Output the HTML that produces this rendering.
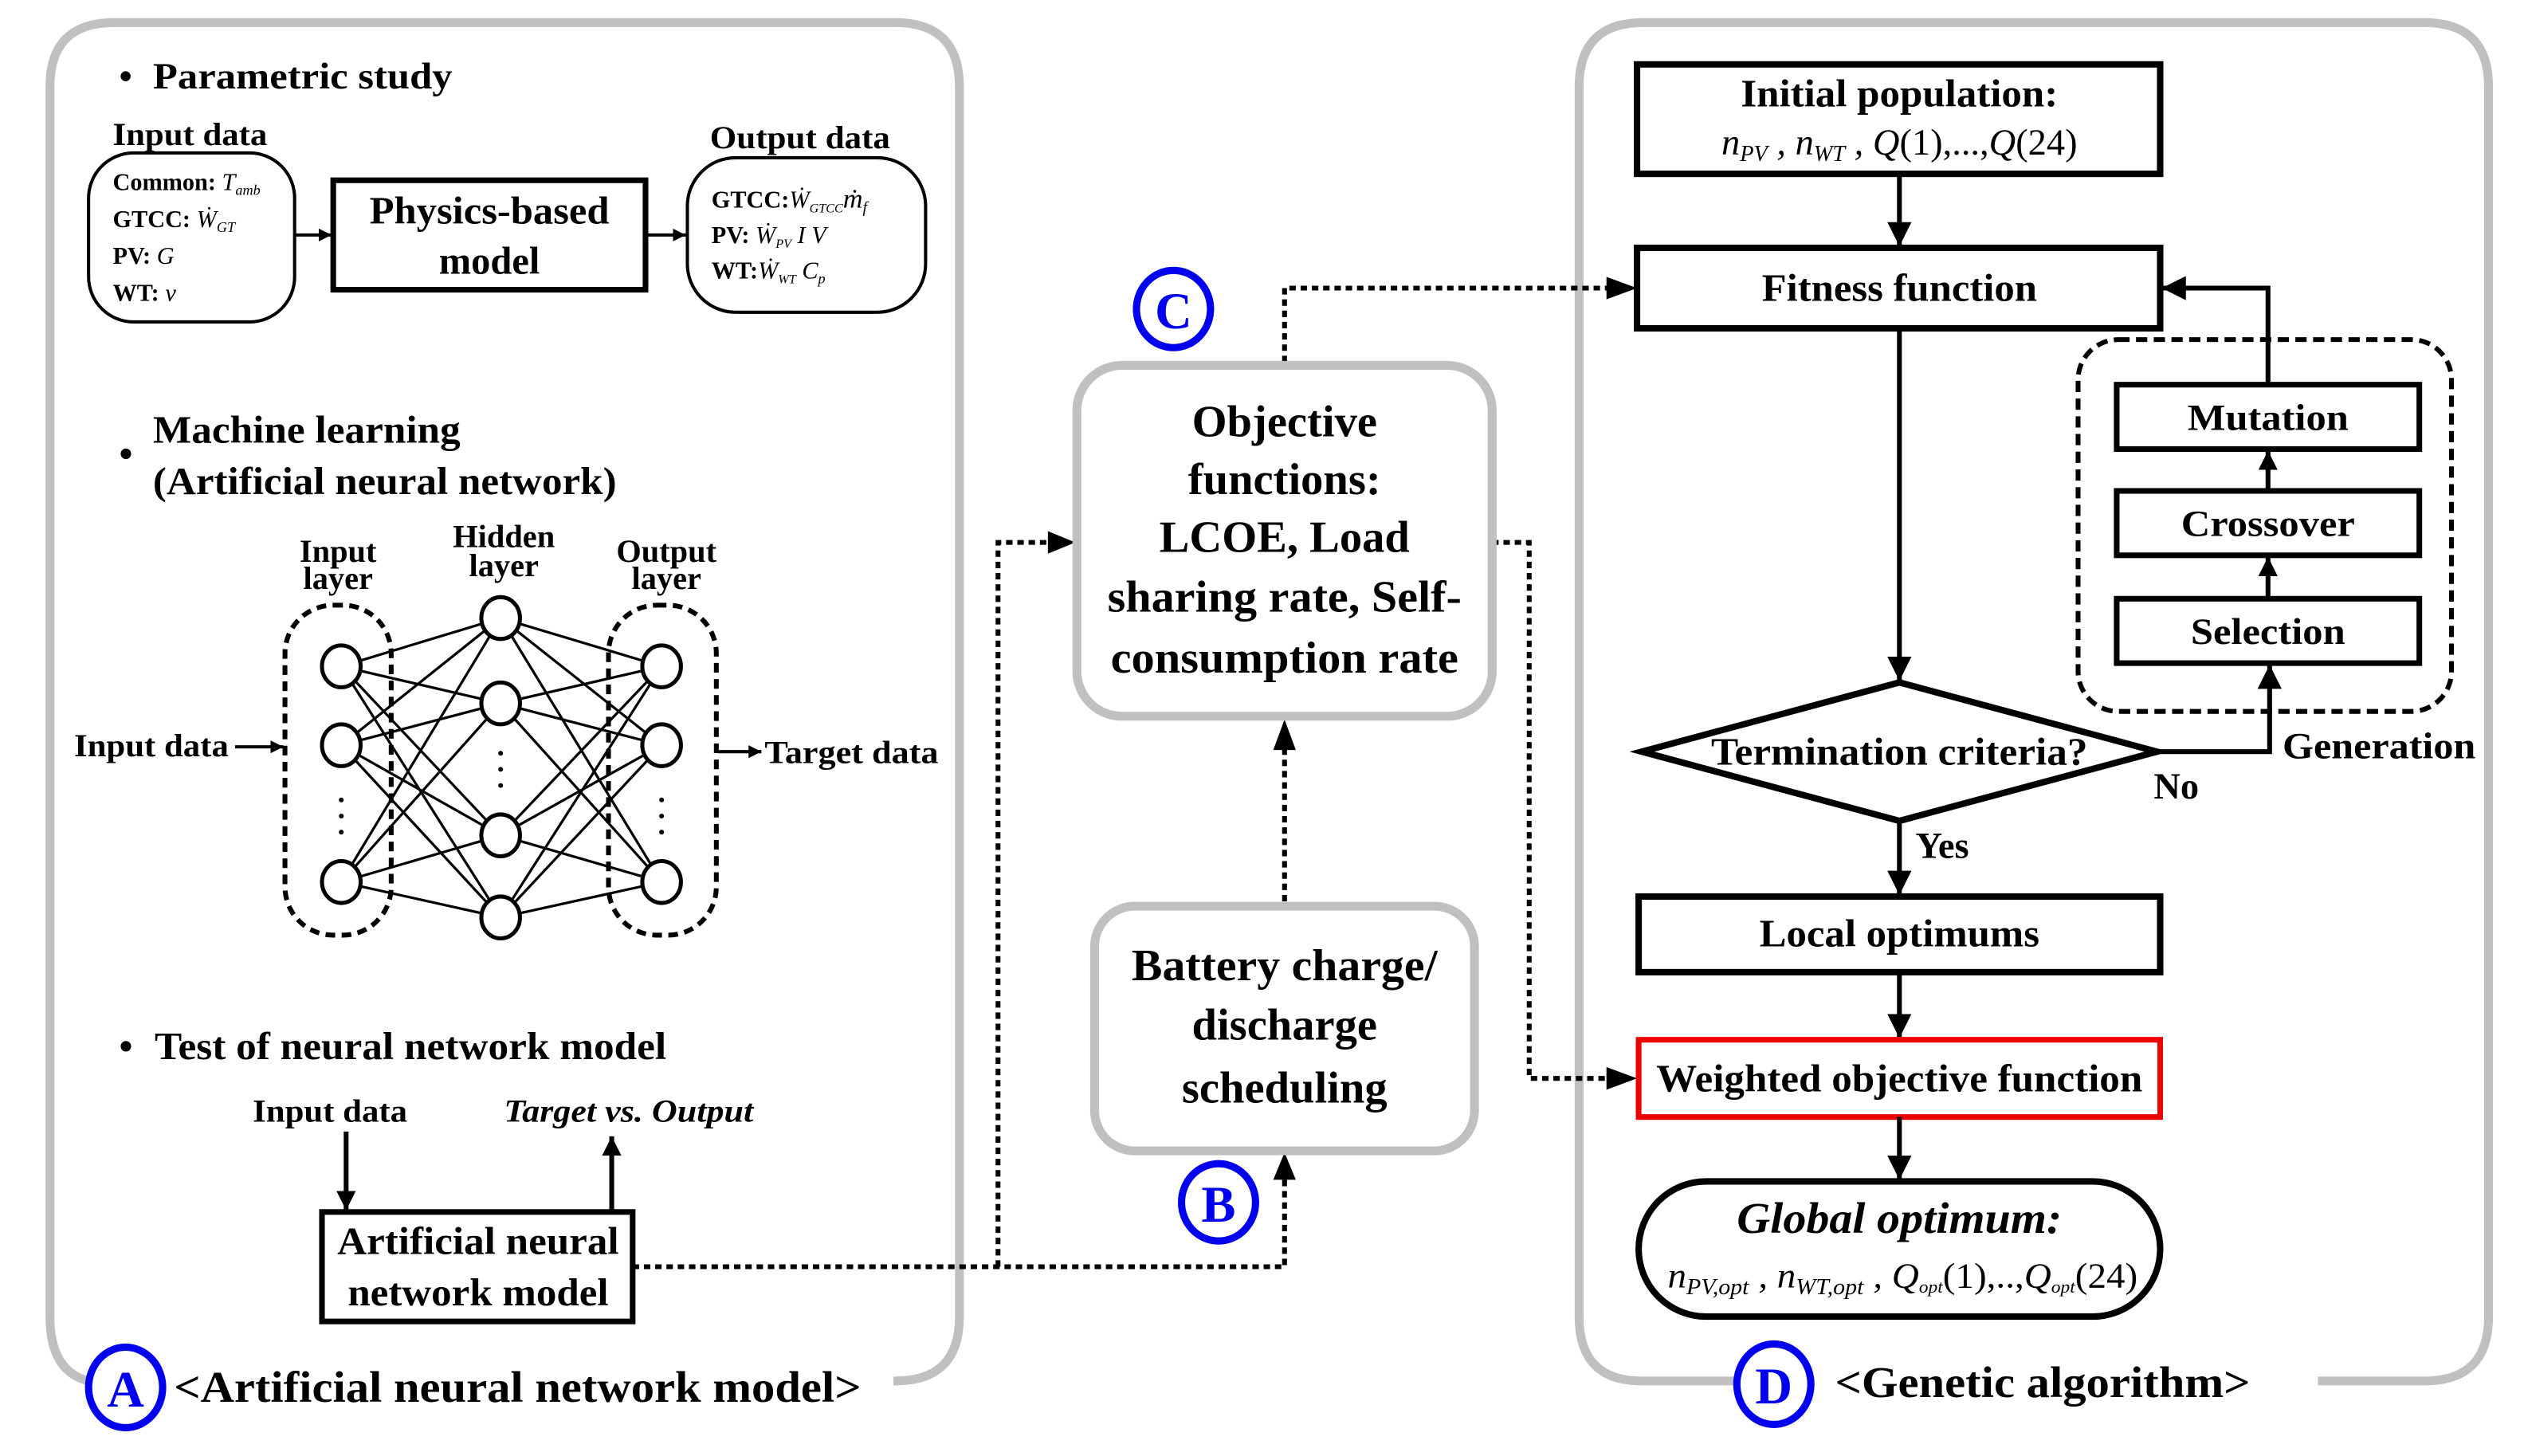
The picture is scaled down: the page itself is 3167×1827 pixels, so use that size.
<!DOCTYPE html>
<html><head><meta charset="utf-8"><style>html,body{margin:0;padding:0;background:#fff}svg{display:block}</style></head>
<body>
<svg xmlns="http://www.w3.org/2000/svg" width="3167" height="1827" viewBox="0 0 1568 904.6" font-family="'Liberation Serif', serif" font-weight="bold">
<defs>
<marker id="ah" viewBox="0 0 10 10" refX="10" refY="5" markerWidth="4" markerHeight="4" orient="auto" markerUnits="strokeWidth"><path d="M0,0 L10,5 L0,10 z" fill="#000"/></marker>
<marker id="ahs" viewBox="0 0 10 10" refX="10" refY="5" markerWidth="5" markerHeight="5" orient="auto" markerUnits="strokeWidth"><path d="M0,0 L10,5 L0,10 z" fill="#000"/></marker>
</defs>
<rect width="1568" height="904.6" fill="#fff"/>
<!-- Panels -->
<path d="M555,858 H556 Q596,858 596,818 V54 Q596,14 556,14 H71 Q31,14 31,54 V818 Q31,852 55,858" fill="none" stroke="#c0c0c0" stroke-width="5.5"/>
<path d="M1080,858 H1020 Q981,858 981,818 V54 Q981,14 1021,14 H1506 Q1546,14 1546,54 V818 Q1546,858 1506,858 H1440" fill="none" stroke="#c0c0c0" stroke-width="5.5"/>

<!-- Parametric study -->
<g font-size="23">
<text x="74" y="55">•</text><text x="95" y="55" textLength="186" lengthAdjust="spacingAndGlyphs">Parametric study</text>
</g>
<text x="70" y="90" font-size="20" textLength="96" lengthAdjust="spacingAndGlyphs">Input data</text>
<rect x="55" y="95" width="128" height="105" rx="28" fill="none" stroke="#000" stroke-width="2"/>
<g font-size="15">
<text x="70" y="118">Common: <tspan font-style="italic" font-weight="normal">T<tspan font-size="9" dy="3">amb</tspan></tspan></text>
<text x="70" y="141">GTCC: <tspan font-style="italic" font-weight="normal">Ẇ<tspan font-size="9" dy="3">GT</tspan></tspan></text>
<text x="70" y="164">PV: <tspan font-style="italic" font-weight="normal">G</tspan></text>
<text x="70" y="187">WT:  <tspan font-style="italic" font-weight="normal">v</tspan></text>
</g>
<line x1="183" y1="146" x2="206" y2="146" stroke="#000" stroke-width="2" marker-end="url(#ah)"/>
<rect x="207" y="112" width="194" height="68" fill="none" stroke="#000" stroke-width="3.5"/>
<g font-size="24" text-anchor="middle"><text x="304" y="139" textLength="149" lengthAdjust="spacingAndGlyphs">Physics-based</text><text x="304" y="170">model</text></g>
<line x1="401" y1="146" x2="426" y2="146" stroke="#000" stroke-width="2" marker-end="url(#ah)"/>
<text x="441" y="92" font-size="20" textLength="112" lengthAdjust="spacingAndGlyphs">Output data</text>
<rect x="427" y="98" width="148" height="96" rx="30" fill="none" stroke="#000" stroke-width="2"/>
<g font-size="15">
<text x="442" y="129">GTCC:<tspan font-style="italic" font-weight="normal">Ẇ<tspan font-size="8" dy="3">GTCC</tspan><tspan dy="-3" font-size="17">ṁ</tspan><tspan font-size="10" dy="3">f</tspan></tspan></text>
<text x="442" y="151">PV: <tspan font-style="italic" font-weight="normal">Ẇ<tspan font-size="8" dy="3">PV</tspan><tspan dy="-3"> I  V</tspan></tspan></text>
<text x="442" y="173">WT:<tspan font-style="italic" font-weight="normal">Ẇ<tspan font-size="8" dy="3">WT</tspan><tspan dy="-3"> C</tspan><tspan font-size="9" dy="3">p</tspan></tspan></text>
</g>

<!-- Machine learning -->
<g font-size="24">
<text x="74" y="290">•</text>
<text x="95" y="275" textLength="191" lengthAdjust="spacingAndGlyphs">Machine learning</text>
<text x="95" y="307" textLength="288" lengthAdjust="spacingAndGlyphs">(Artificial neural network)</text>
</g>
<g font-size="20" text-anchor="middle">
<text x="210" y="349">Input</text><text x="210" y="366">layer</text>
<text x="313" y="340">Hidden</text><text x="313" y="358">layer</text>
<text x="414" y="349">Output</text><text x="414" y="366">layer</text>
</g>
<rect x="177" y="376" width="66" height="205" rx="30" fill="none" stroke="#000" stroke-width="3" stroke-dasharray="6,4"/>
<rect x="378" y="376" width="67" height="205" rx="30" fill="none" stroke="#000" stroke-width="3" stroke-dasharray="6,4"/>
<g stroke="#000" stroke-width="1.6">
<path d="M212,414 L311,384 M212,414 L311,437 M212,414 L311,519 M212,414 L311,570
M212,463 L311,384 M212,463 L311,437 M212,463 L311,519 M212,463 L311,570
M212,548 L311,384 M212,548 L311,437 M212,548 L311,519 M212,548 L311,570
M411,414 L311,384 M411,414 L311,437 M411,414 L311,519 M411,414 L311,570
M411,463 L311,384 M411,463 L311,437 M411,463 L311,519 M411,463 L311,570
M411,548 L311,384 M411,548 L311,437 M411,548 L311,519 M411,548 L311,570"/>
</g>
<g fill="#fff" stroke="#000" stroke-width="2.5">
<ellipse cx="212" cy="414" rx="12" ry="13"/><ellipse cx="212" cy="463" rx="12" ry="13"/><ellipse cx="212" cy="548" rx="12" ry="13"/>
<ellipse cx="311" cy="384" rx="12" ry="13"/><ellipse cx="311" cy="437" rx="12" ry="13"/><ellipse cx="311" cy="519" rx="12" ry="13"/><ellipse cx="311" cy="570" rx="12" ry="13"/>
<ellipse cx="411" cy="414" rx="12" ry="13"/><ellipse cx="411" cy="463" rx="12" ry="13"/><ellipse cx="411" cy="548" rx="12" ry="13"/>
</g>
<g fill="#000">
<circle cx="212" cy="497" r="1.5"/><circle cx="212" cy="507" r="1.5"/><circle cx="212" cy="517" r="1.5"/>
<circle cx="311" cy="468" r="1.5"/><circle cx="311" cy="478" r="1.5"/><circle cx="311" cy="488" r="1.5"/>
<circle cx="411" cy="497" r="1.5"/><circle cx="411" cy="507" r="1.5"/><circle cx="411" cy="517" r="1.5"/>
</g>
<text x="46" y="470" font-size="20" textLength="96" lengthAdjust="spacingAndGlyphs">Input data</text>
<line x1="146" y1="464" x2="176" y2="464" stroke="#000" stroke-width="2" marker-end="url(#ah)"/>
<line x1="446" y1="467" x2="473" y2="467" stroke="#000" stroke-width="2" marker-end="url(#ah)"/>
<text x="475" y="474" font-size="20" textLength="108" lengthAdjust="spacingAndGlyphs">Target data</text>

<!-- Test -->
<g font-size="24"><text x="74" y="658">•</text><text x="96" y="658" textLength="318" lengthAdjust="spacingAndGlyphs">Test of neural network model</text></g>
<text x="205" y="697" font-size="20" text-anchor="middle" textLength="96" lengthAdjust="spacingAndGlyphs">Input data</text>
<text x="313" y="697" font-size="20" font-style="italic" textLength="155" lengthAdjust="spacingAndGlyphs">Target vs. Output</text>
<line x1="215" y1="703" x2="215" y2="752" stroke="#000" stroke-width="3" marker-end="url(#ah)"/>
<line x1="380" y1="752" x2="380" y2="706" stroke="#000" stroke-width="3" marker-end="url(#ah)"/>
<rect x="200" y="753" width="193" height="68" fill="#fff" stroke="#000" stroke-width="3.5"/>
<g font-size="24" text-anchor="middle"><text x="297" y="779" textLength="175" lengthAdjust="spacingAndGlyphs">Artificial neural</text><text x="297" y="811" textLength="162" lengthAdjust="spacingAndGlyphs">network model</text></g>

<!-- dotted connectors -->
<g fill="none" stroke="#000" stroke-width="3" stroke-dasharray="4,3">
<path d="M393,787 H798 V722"/>
<path d="M620,787 V337 H656"/>
<path d="M798,560 V462"/>
<path d="M798,225 V179 H1003"/>
<path d="M927,337 H950 V670 H1004"/>
</g>
<g fill="#000">
<path d="M798,716 L791,733 L805,733 z"/>
<path d="M668,337 L651,330 L651,344 z"/>
<path d="M798,447 L791,466 L805,466 z"/>
<path d="M1017,179 L998,172 L998,186 z"/>
<path d="M1017,670 L998,663 L998,677 z"/>
</g>

<!-- Middle boxes -->
<rect x="669" y="227" width="258" height="218" rx="28" fill="#fff" stroke="#c0c0c0" stroke-width="5.5"/>
<g font-size="28" text-anchor="middle">
<text x="798" y="271">Objective</text><text x="798" y="307">functions:</text><text x="798" y="343">LCOE, Load</text>
<text x="798" y="380" textLength="220" lengthAdjust="spacingAndGlyphs">sharing rate, Self-</text><text x="798" y="418" textLength="216" lengthAdjust="spacingAndGlyphs">consumption rate</text>
</g>
<rect x="680" y="563" width="236" height="152" rx="25" fill="#fff" stroke="#c0c0c0" stroke-width="5.5"/>
<g font-size="28" text-anchor="middle"><text x="798" y="609" textLength="190" lengthAdjust="spacingAndGlyphs">Battery charge/</text><text x="798" y="646">discharge</text><text x="798" y="685">scheduling</text></g>

<!-- Circles -->
<g fill="#fff" stroke="#0000ee" stroke-width="4.5">
<ellipse cx="78" cy="862" rx="23" ry="25"/>
<ellipse cx="729" cy="192" rx="23" ry="24"/>
<ellipse cx="757" cy="747" rx="23" ry="24"/>
<ellipse cx="1102" cy="860" rx="23" ry="25"/>
</g>
<g fill="#0000ee" font-size="32" text-anchor="middle">
<text x="78" y="874">A</text><text x="729" y="204">C</text><text x="757" y="759">B</text><text x="1102" y="872">D</text>
</g>
<text x="108" y="871" font-size="27" textLength="427" lengthAdjust="spacingAndGlyphs">&lt;Artificial neural network model&gt;</text>
<text x="1140" y="868" font-size="27" textLength="258" lengthAdjust="spacingAndGlyphs">&lt;Genetic algorithm&gt;</text>

<!-- GA flowchart -->
<rect x="1017" y="40" width="325" height="68" fill="none" stroke="#000" stroke-width="4"/>
<text x="1180" y="66" font-size="24" text-anchor="middle" textLength="197" lengthAdjust="spacingAndGlyphs">Initial population:</text>
<text x="1180" y="96" font-size="23" text-anchor="middle" font-weight="normal" font-style="italic">n<tspan font-size="14" dy="4">PV</tspan><tspan dy="-4"> , n</tspan><tspan font-size="14" dy="4">WT</tspan><tspan dy="-4"> , Q</tspan><tspan font-style="normal">(1),...,</tspan>Q<tspan font-style="normal">(24)</tspan></text>
<line x1="1180" y1="108" x2="1180" y2="153" stroke="#000" stroke-width="3" marker-end="url(#ahs)"/>
<rect x="1017" y="154" width="325" height="50" fill="none" stroke="#000" stroke-width="4"/>
<text x="1180" y="187" font-size="24" text-anchor="middle" textLength="171" lengthAdjust="spacingAndGlyphs">Fitness function</text>
<line x1="1180" y1="204" x2="1180" y2="423" stroke="#000" stroke-width="3" marker-end="url(#ahs)"/>
<path d="M1020,467 L1180,424 L1340,467 L1180,510 z" fill="none" stroke="#000" stroke-width="4"/>
<text x="1180" y="475" font-size="24" text-anchor="middle" textLength="234" lengthAdjust="spacingAndGlyphs">Termination criteria?</text>
<path d="M1340,467 H1410 V413" fill="none" stroke="#000" stroke-width="3" marker-end="url(#ahs)"/>
<text x="1338" y="496" font-size="23">No</text>
<text x="1418" y="471" font-size="23" textLength="120" lengthAdjust="spacingAndGlyphs">Generation</text>
<rect x="1291" y="211" width="232" height="231" rx="25" fill="none" stroke="#000" stroke-width="3" stroke-dasharray="7,4"/>
<rect x="1315" y="239" width="188" height="40" fill="#fff" stroke="#000" stroke-width="3.5"/>
<rect x="1315" y="305" width="188" height="40" fill="#fff" stroke="#000" stroke-width="3.5"/>
<rect x="1315" y="372" width="188" height="40" fill="#fff" stroke="#000" stroke-width="3.5"/>
<g font-size="23" text-anchor="middle"><text x="1409" y="267" textLength="100" lengthAdjust="spacingAndGlyphs">Mutation</text><text x="1409" y="333" textLength="108" lengthAdjust="spacingAndGlyphs">Crossover</text><text x="1409" y="400" textLength="96" lengthAdjust="spacingAndGlyphs">Selection</text></g>
<line x1="1409" y1="372" x2="1409" y2="346" stroke="#000" stroke-width="3" marker-end="url(#ah)"/>
<line x1="1409" y1="305" x2="1409" y2="280" stroke="#000" stroke-width="3" marker-end="url(#ah)"/>
<path d="M1409,239 V179 H1343" fill="none" stroke="#000" stroke-width="3" marker-end="url(#ahs)"/>
<line x1="1180" y1="510" x2="1180" y2="556" stroke="#000" stroke-width="3" marker-end="url(#ahs)"/>
<text x="1190" y="533" font-size="23">Yes</text>
<rect x="1018" y="557" width="324" height="47" fill="none" stroke="#000" stroke-width="4"/>
<text x="1180" y="588" font-size="24" text-anchor="middle" textLength="174" lengthAdjust="spacingAndGlyphs">Local optimums</text>
<line x1="1180" y1="604" x2="1180" y2="645" stroke="#000" stroke-width="3" marker-end="url(#ahs)"/>
<rect x="1018" y="646" width="324" height="48" fill="none" stroke="#ee0000" stroke-width="3.5"/>
<text x="1180" y="678" font-size="24" text-anchor="middle" textLength="302" lengthAdjust="spacingAndGlyphs">Weighted objective function</text>
<line x1="1180" y1="694" x2="1180" y2="733" stroke="#000" stroke-width="3" marker-end="url(#ahs)"/>
<rect x="1018" y="734" width="324" height="84" rx="42" fill="none" stroke="#000" stroke-width="4"/>
<text x="1180" y="766" font-size="27" font-style="italic" text-anchor="middle" textLength="202" lengthAdjust="spacingAndGlyphs">Global optimum:</text>
<text x="1182" y="800" font-size="22" text-anchor="middle" font-weight="normal" font-style="italic" textLength="292" lengthAdjust="spacingAndGlyphs">n<tspan font-size="14" dy="4">PV,opt</tspan><tspan dy="-4"> , n</tspan><tspan font-size="14" dy="4">WT,opt</tspan><tspan dy="-4"> , Q</tspan><tspan font-size="11" dy="3">opt</tspan><tspan dy="-3" font-style="normal">(1),..,</tspan>Q<tspan font-size="11" dy="3">opt</tspan><tspan dy="-3" font-style="normal">(24)</tspan></text>
</svg>
</body></html>
